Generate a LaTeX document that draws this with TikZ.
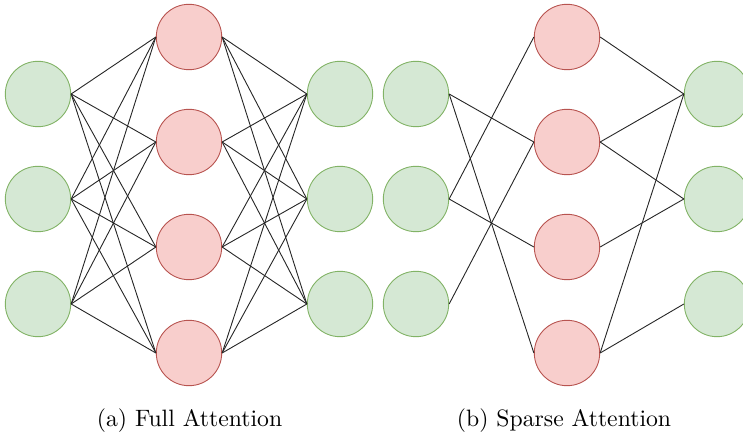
\documentclass[tikz,border=0pt]{standalone}
\usepackage{graphicx}
\begin{document}
\begin{tikzpicture}[x=1pt,y=-1pt,
  gnode/.style={circle,draw=gstroke,fill=gfill,line width=0.9pt,minimum size=65.4pt,inner sep=0pt},
  rnode/.style={circle,draw=rstroke,fill=rfill,line width=0.9pt,minimum size=65.4pt,inner sep=0pt},
  link/.style={draw=black!85,line width=0.9pt},
  captext/.style={inner sep=0pt,anchor=base}]
\definecolor{gfill}{HTML}{D5E8D4}
\definecolor{gstroke}{HTML}{82B366}
\definecolor{rfill}{HTML}{F8CECC}
\definecolor{rstroke}{HTML}{B85450}
\useasboundingbox (0,0) rectangle (743,435);
% Full attention
\foreach \i/\y in {1/94,2/199,3/304}{
  \node[gnode] (a\i) at (38,\y) {};
  \node[gnode] (c\i) at (340,\y) {};
}
\foreach \j/\y in {1/37,2/142,3/247,4/353}{
  \node[rnode] (b\j) at (189,\y) {};
}
\foreach \i in {1,2,3}{
  \foreach \j in {1,2,3,4}{
    \draw[link] (a\i.east) -- (b\j.west);
    \draw[link] (b\j.east) -- (c\i.west);
  }
}
% Sparse attention
\foreach \i/\y in {1/94,2/199,3/304}{
  \node[gnode] (p\i) at (416,\y) {};
  \node[gnode] (r\i) at (717,\y) {};
}
\foreach \j/\y in {1/37,2/142,3/247,4/353}{
  \node[rnode] (q\j) at (567,\y) {};
}
\foreach \i/\j in {1/2,1/4,2/1,2/3,3/2}{
  \draw[link] (p\i.east) -- (q\j.west);
}
\foreach \j/\i in {1/1,2/1,2/2,3/2,4/1,4/3}{
  \draw[link] (q\j.east) -- (r\i.west);
}
\node[captext] (la) at (189.5,426) {\scalebox{2.37}{(a) Full Attention}};
\node[captext] (lb) at (564,426) {\scalebox{2.37}{(b) Sparse Attention}};
\end{tikzpicture}
\end{document}
